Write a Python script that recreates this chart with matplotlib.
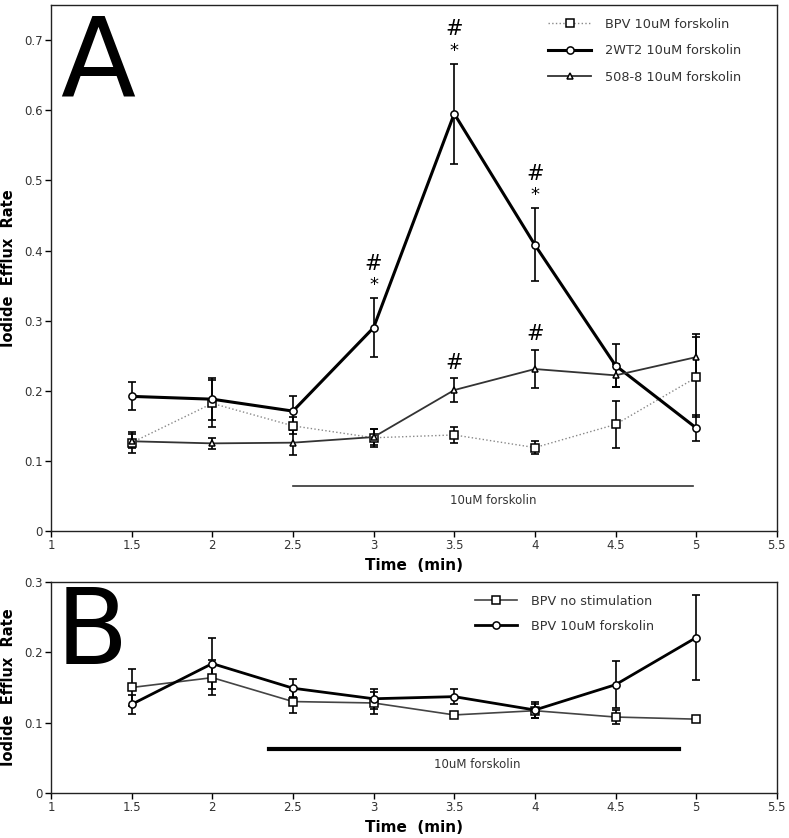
import matplotlib
matplotlib.use('Agg')
import matplotlib.pyplot as plt

plt.rcParams['font.family'] = ['DejaVu Sans']

time = [1.5, 2, 2.5, 3, 3.5, 4, 4.5, 5]

# panel A
a_bpv = [0.126, 0.182, 0.150, 0.133, 0.137, 0.119, 0.152, 0.219]
a_bpv_err = [0.015, 0.034, 0.012, 0.013, 0.011, 0.009, 0.033, 0.057]
a_2wt2 = [0.192, 0.188, 0.171, 0.290, 0.595, 0.408, 0.236, 0.147]
a_2wt2_err = [0.020, 0.030, 0.021, 0.042, 0.071, 0.052, 0.030, 0.018]
a_508 = [0.128, 0.125, 0.126, 0.134, 0.201, 0.231, 0.222, 0.248]
a_508_err = [0.010, 0.008, 0.018, 0.012, 0.017, 0.027, 0.016, 0.033]

# significance marks in panel A (time points)
star_2wt2 = [3, 3.5, 4]
hash_508 = [3.5, 4]

# panel B
b_nostim = [0.150, 0.164, 0.130, 0.128, 0.111, 0.117, 0.108, 0.105]
b_nostim_err = [0.027, 0.025, 0.016, 0.016, 0.003, 0.010, 0.010, 0.0]
b_fsk = [0.126, 0.184, 0.149, 0.134, 0.137, 0.118, 0.154, 0.221]
b_fsk_err = [0.013, 0.036, 0.013, 0.014, 0.011, 0.011, 0.033, 0.061]

xticks = [1, 1.5, 2, 2.5, 3, 3.5, 4, 4.5, 5, 5.5]
xticklabels = ['1', '1.5', '2', '2.5', '3', '3.5', '4', '4.5', '5', '5.5']

fig = plt.figure(figsize=(7.89, 8.38), dpi=100)
axA = fig.add_axes([0.0646, 0.3663, 0.920, 0.6277])
axB = fig.add_axes([0.0646, 0.0537, 0.920, 0.2518])


def series(ax, y, err, marker, ls, lw, color, ms, label):
    ax.errorbar(time, y, yerr=err, fmt='none', ecolor='black', elinewidth=1.2,
                capsize=3, capthick=1.2, zorder=2)
    ax.plot(time, y, linestyle=ls, linewidth=lw, color=color, marker=marker,
            markersize=ms, markerfacecolor='white', markeredgecolor='black',
            markeredgewidth=1.1, label=label, zorder=3)


def style(ax, ylim, yticks, yticklabels):
    ax.set_xlim(1, 5.5)
    ax.set_ylim(*ylim)
    ax.set_xticks(xticks)
    ax.set_xticklabels(xticklabels, fontsize=8.5, color='#333333')
    ax.set_yticks(yticks)
    ax.set_yticklabels(yticklabels, fontsize=8.5, color='#333333')
    ax.tick_params(direction='out', length=4, width=1, pad=2)
    for s in ax.spines.values():
        s.set_linewidth(1.0)
        s.set_color('#222222')
    ax.set_xlabel('Time  (min)', fontsize=11, fontweight='bold', labelpad=4)
    ax.set_ylabel('Iodide  Efflux  Rate', fontsize=10.5, fontweight='bold', labelpad=6)


# ---- panel A
series(axA, a_bpv, a_bpv_err, 's', ':', 1.0, '#888888', 5.5, 'BPV 10uM forskolin')
series(axA, a_2wt2, a_2wt2_err, 'o', '-', 2.2, 'black', 5.2, '2WT2 10uM forskolin')
series(axA, a_508, a_508_err, '^', '-', 1.3, '#333333', 5, '508-8 10uM forskolin')
style(axA, (0, 0.75), [0, 0.1, 0.2, 0.3, 0.4, 0.5, 0.6, 0.7],
      ['0', '0.1', '0.2', '0.3', '0.4', '0.5', '0.6', '0.7'])

for t in star_2wt2:
    i = time.index(t)
    top = a_2wt2[i] + a_2wt2_err[i]
    axA.text(t, top + 0.006, '*', ha='center', va='bottom', fontsize=13)
    axA.text(t, top + 0.035, '#', ha='center', va='bottom', fontsize=15)
for t in hash_508:
    i = time.index(t)
    top = a_508[i] + a_508_err[i]
    axA.text(t, top + 0.008, '#', ha='center', va='bottom', fontsize=15)

axA.plot([2.5, 4.98], [0.064, 0.064], color='#333333', lw=1.2)
axA.text(3.74, 0.043, '10uM forskolin', ha='center', va='center', fontsize=8.5,
         color='#333333')
axA.text(0.012, 0.827, 'A', transform=axA.transAxes, fontsize=79,
         va='baseline', ha='left')
axA.legend(loc='upper left', bbox_to_anchor=(0.685, 0.976), frameon=False,
           fontsize=9.3, handlelength=3.3, handletextpad=1.1, labelspacing=1.05,
           borderpad=0, borderaxespad=0, numpoints=1, labelcolor='#333333')

# ---- panel B
series(axB, b_nostim, b_nostim_err, 's', '-', 1.2, '#444444', 5.5, 'BPV no stimulation')
series(axB, b_fsk, b_fsk_err, 'o', '-', 2.0, 'black', 5.2, 'BPV 10uM forskolin')
style(axB, (0, 0.3), [0, 0.1, 0.2, 0.3], ['0', '0.1', '0.2', '0.3'])

axB.plot([2.354, 4.895], [0.063, 0.063], color='black', lw=3)
axB.text(3.64, 0.041, '10uM forskolin', ha='center', va='center', fontsize=8.5,
         color='#333333')
axB.text(0.006, 0.611, 'B', transform=axB.transAxes, fontsize=76,
         va='baseline', ha='left')
axB.legend(loc='upper left', bbox_to_anchor=(0.584, 0.94), frameon=False,
           fontsize=9.2, handlelength=3.3, handletextpad=1.1, labelspacing=0.95,
           borderpad=0, borderaxespad=0, numpoints=1, labelcolor='#333333')

fig.savefig('out.png', dpi=100)
